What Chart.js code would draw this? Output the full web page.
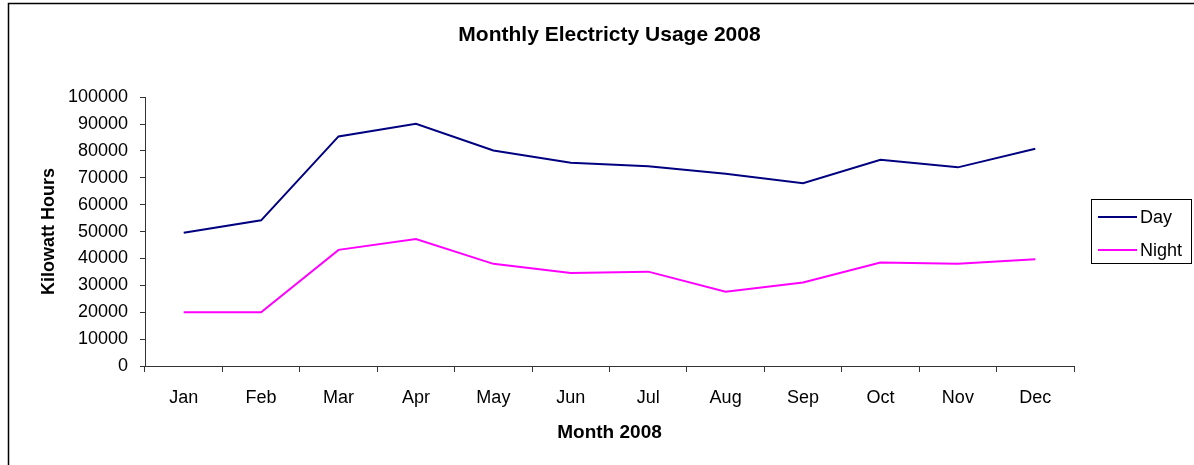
<!DOCTYPE html>
<html lang="en">
<head>
    <meta charset="UTF-8">
    <script src="https://cdn.jsdelivr.net/npm/chart.js"></script>
    <title>Monthly Electricty Usage 2008</title>
    <style>
        html, body {
            margin: 0;
            padding: 0;
            background: #fff;
        }
        #wrap {
            width: 1194px;
            height: 465px;
        }
    </style>
</head>
<body>
    <div id="wrap">
        <canvas id="usageChart" width="1194" height="465"></canvas>
    </div>

    <script>
        // data
        const months = ['Jan', 'Feb', 'Mar', 'Apr', 'May', 'Jun', 'Jul', 'Aug', 'Sep', 'Oct', 'Nov', 'Dec'];
        const dayUsage = [49600, 54200, 85400, 90100, 80200, 75600, 74300, 71500, 68000, 76700, 73900, 80800];
        const nightUsage = [20000, 20000, 43200, 47200, 38000, 34600, 35100, 27600, 31100, 38500, 38000, 39700];
        const yTicks = [0, 10000, 20000, 30000, 40000, 50000, 60000, 70000, 80000, 90000, 100000];

        const FONT = "'Liberation Sans', Arial, sans-serif";

        // frame round the whole chart (top + left edges only are visible)
        const framePlugin = {
            id: 'frame',
            beforeDraw(chart) {
                const ctx = chart.ctx;
                ctx.save();
                ctx.strokeStyle = '#000';
                ctx.lineWidth = 1.5;
                ctx.beginPath();
                ctx.moveTo(8.5, chart.height);
                ctx.lineTo(8.5, 3.5);
                ctx.lineTo(chart.width, 3.5);
                ctx.stroke();
                ctx.restore();
            }
        };

        // boxed legend, Excel style
        const boxLegend = {
            id: 'boxLegend',
            afterDraw(chart) {
                const ctx = chart.ctx;
                const left = 1091, top = 199, w = 100, h = 64;
                ctx.save();
                ctx.strokeStyle = '#000';
                ctx.lineWidth = 1;
                ctx.strokeRect(left + 0.5, top + 0.5, w, h);
                ctx.font = '18px ' + FONT;
                ctx.textBaseline = 'middle';
                ctx.fillStyle = '#000';
                chart.data.datasets.forEach((ds, i) => {
                    const y = top + 18 + i * 33;
                    ctx.strokeStyle = ds.borderColor;
                    ctx.lineWidth = 2;
                    ctx.beginPath();
                    ctx.moveTo(left + 7, y);
                    ctx.lineTo(left + 46, y);
                    ctx.stroke();
                    ctx.fillText(ds.label, left + 49, y + 1);
                });
                ctx.restore();
            }
        };

        new Chart(document.getElementById('usageChart'), {
            type: 'line',
            data: {
                labels: months,
                datasets: [{
                    label: 'Day',
                    data: dayUsage,
                    borderColor: '#000080',
                    backgroundColor: '#000080',
                    borderWidth: 2,
                    pointRadius: 0,
                    tension: 0
                }, {
                    label: 'Night',
                    data: nightUsage,
                    borderColor: '#FF00FF',
                    backgroundColor: '#FF00FF',
                    borderWidth: 2,
                    pointRadius: 0,
                    tension: 0
                }]
            },
            options: {
                responsive: false,
                animation: false,
                layout: {
                    padding: { left: 8, right: 120, top: 0, bottom: 0 }
                },
                plugins: {
                    legend: { display: false },
                    tooltip: { enabled: false },
                    title: {
                        display: true,
                        text: 'Monthly Electricty Usage 2008',
                        fullSize: false,
                        color: '#000',
                        font: { family: FONT, size: 21, weight: 'bold' },
                        padding: { top: 23, bottom: 49 }
                    }
                },
                scales: {
                    x: {
                        offset: true,
                        afterFit(scale) { scale.height = 99; },
                        grid: {
                            offset: true,
                            drawOnChartArea: false,
                            drawTicks: true,
                            tickLength: 6,
                            color: '#333'
                        },
                        border: { display: true, color: '#333', width: 1 },
                        ticks: {
                            color: '#000',
                            padding: 15,
                            maxRotation: 0,
                            font: { family: FONT, size: 18 }
                        },
                        title: {
                            display: true,
                            text: 'Month 2008',
                            color: '#000',
                            font: { family: FONT, size: 19, weight: 'bold' },
                            padding: { top: 0, bottom: 21 }
                        }
                    },
                    y: {
                        min: 0,
                        max: 100000,
                        afterFit(scale) { scale.width = 137; },
                        afterBuildTicks(scale) {
                            scale.ticks = yTicks.map(v => ({ value: v }));
                        },
                        grid: {
                            drawOnChartArea: false,
                            drawTicks: true,
                            tickLength: 5,
                            color: '#333'
                        },
                        border: { display: true, color: '#333', width: 1 },
                        ticks: {
                            color: '#000',
                            padding: 12,
                            font: { family: FONT, size: 18 },
                            callback: v => String(v)
                        },
                        title: {
                            display: true,
                            text: 'Kilowatt Hours',
                            color: '#000',
                            font: { family: FONT, size: 18, weight: 'bold' },
                            padding: { top: 30, bottom: 0 }
                        }
                    }
                }
            },
            plugins: [framePlugin, boxLegend]
        });
    </script>
</body>
</html>
